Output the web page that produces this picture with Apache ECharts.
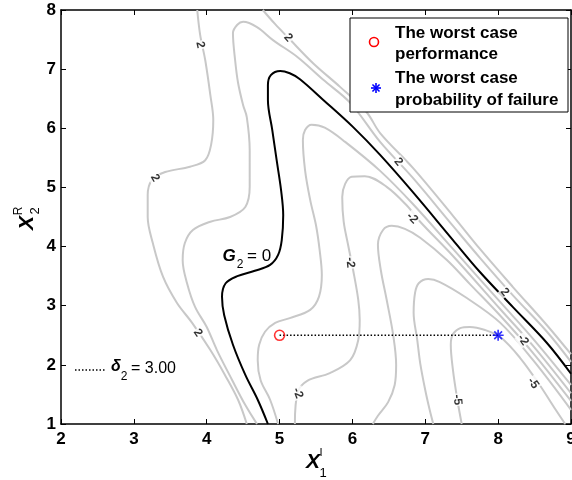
<!DOCTYPE html>
<html>
<head>
<meta charset="utf-8">
<script src="https://cdn.jsdelivr.net/npm/echarts@6/dist/echarts.min.js"></script>
<style>
html,body{margin:0;padding:0;background:#fff;}
#chart{width:572px;height:480px;}
</style>
</head>
<body>
<div id="chart"></div>
<script>
// Limit-state contour G2 = 0 (black)
const limitStateZero = [[4.84,1.00],[4.70,1.41],[4.53,1.83],[4.36,2.34],[4.24,2.84],[4.21,3.15],[4.26,3.38],[4.42,3.50],[4.66,3.59],[4.87,3.69],[4.98,3.86],[5.03,4.11],[5.05,4.53],[5.02,4.96],[4.96,5.46],[4.90,5.97],[4.84,6.48],[4.84,6.73],[4.88,6.90],[5.01,6.97],[5.14,6.93],[5.28,6.83],[5.60,6.48],[6.01,6.02],[6.38,5.55],[6.83,4.92],[7.38,4.11],[7.75,3.57],[8.20,2.98],[8.67,2.37],[9.00,1.85]];

// Grey iso-lines of G2
const isoLeftOuter = [[3.87,8.00],[3.91,7.58],[3.98,7.15],[4.05,6.56],[4.09,6.14],[4.06,5.72],[3.98,5.46],[3.77,5.35],[3.43,5.26],[3.25,5.13],[3.19,4.87],[3.19,4.50],[3.26,4.06],[3.40,3.49],[3.59,3.05],[3.80,2.71],[4.05,2.25],[4.25,1.83],[4.43,1.41],[4.55,1.00]];
const isoLeftInner = [[9.00,2.05],[8.67,2.56],[8.20,3.18],[7.75,3.81],[7.38,4.35],[6.83,5.16],[6.38,5.77],[5.97,6.43],[5.60,6.82],[5.24,7.21],[4.91,7.49],[4.69,7.71],[4.50,7.80],[4.42,7.75],[4.36,7.61],[4.39,7.15],[4.43,6.77],[4.50,6.39],[4.55,6.19],[4.59,5.63],[4.59,5.01],[4.53,4.67],[4.32,4.50],[4.05,4.42],[3.81,4.28],[3.70,4.06],[3.67,3.77],[3.73,3.38],[3.84,2.98],[4.00,2.64],[4.14,2.25],[4.35,1.74],[4.53,1.32],[4.69,1.00]];
const isoUpperRight = [[4.77,8.00],[4.94,7.76],[5.12,7.53],[5.46,7.10],[5.83,6.70],[6.19,6.28],[6.38,5.92],[6.83,5.33],[7.38,4.52],[7.75,3.96],[8.20,3.32],[8.67,2.67],[9.00,2.18]];
const isoArchA = [[9.00,1.66],[8.48,2.44],[8.03,3.06],[7.38,3.96],[6.83,4.72],[6.38,5.28],[5.90,5.77],[5.62,6.01],[5.44,6.06],[5.35,5.97],[5.32,5.80],[5.35,5.29],[5.42,4.79],[5.50,4.36],[5.55,3.94],[5.58,3.52],[5.54,3.15],[5.42,2.93],[5.14,2.79],[4.94,2.71],[4.80,2.56],[4.72,2.34],[4.70,2.08],[4.74,1.74],[4.87,1.41],[4.98,1.00]];
const isoArchB = [[9.00,1.52],[8.48,2.32],[8.03,2.94],[7.38,3.84],[6.93,4.42],[6.75,4.69],[6.47,5.01],[6.17,5.19],[5.99,5.18],[5.90,5.06],[5.86,4.84],[5.88,4.42],[5.94,4.03],[6.01,3.60],[6.08,3.10],[6.10,2.76],[6.08,2.42],[5.97,2.08],[5.69,1.86],[5.38,1.73],[5.25,1.54],[5.21,1.00]];
const isoArchC = [[9.00,1.39],[8.48,2.20],[8.03,2.83],[7.61,3.37],[7.30,3.77],[6.93,4.15],[6.72,4.30],[6.54,4.35],[6.42,4.28],[6.35,4.03],[6.39,3.60],[6.47,3.10],[6.56,2.50],[6.60,2.00],[6.58,1.66],[6.49,1.37],[6.35,1.14],[6.28,1.00]];
const isoArchD = [[9.00,1.24],[8.48,2.08],[8.03,2.71],[7.57,3.13],[7.20,3.40],[7.04,3.45],[6.91,3.38],[6.86,3.22],[6.84,2.88],[6.89,2.42],[6.93,2.03],[7.00,1.57],[7.06,1.24],[7.11,1.00]];
const isoArchE = [[8.92,1.00],[8.79,1.24],[8.57,1.66],[8.30,2.12],[8.03,2.47],[7.82,2.59],[7.61,2.64],[7.48,2.62],[7.38,2.52],[7.35,2.34],[7.38,1.91],[7.44,1.41],[7.50,1.00]];

// Contour level labels: [x, y, text]
const levelLabels = [[3.91,7.41,'2'],[3.29,5.16,'2'],[3.88,2.54,'2'],[5.12,7.53,'2'],[6.63,5.43,'2'],[8.09,3.23,'2'],[6.82,4.48,'-2'],[5.97,3.73,'-2'],[5.25,1.52,'-2'],[8.34,2.42,'-2'],[7.44,1.41,'-5'],[8.48,1.69,'-5']];
const levelLabelAngles = [-78,-60,-55,-48,-50,-50,-45,-85,-70,-55,-85,-55];

// Worst-case points
const worstPerformance = [5, 2.5];
const worstFailure = [8, 2.5];
const deltaText = '3.00';

const xTickValues = [2,3,4,5,6,7,8,9];
const yTickValues = [1,2,3,4,5,6,7,8];

const GREY = '#c8c8c8';
const FONT = '"Liberation Sans", Arial, Helvetica, sans-serif';
const starPath = 'M-1,-0.15L1,-0.15L1,0.15L-1,0.15Z M-0.15,-1L0.15,-1L0.15,1L-0.15,1Z M-0.601,-0.813L0.813,0.601L0.601,0.813L-0.813,-0.601Z M-0.813,0.601L0.601,-0.813L0.813,-0.601L-0.601,0.813Z';

function isoLine(data, color) {
  return {
    type: 'line', data: data, xAxisIndex: 0, yAxisIndex: 0,
    symbol: 'none', smooth: 0.35, silent: true, z: 2,
    lineStyle: { color: color, width: 2 }
  };
}

// small asterisk drawn from four strokes (legend key)
function asterisk(cx, cy, r, color) {
  const parts = [];
  for (let k = 0; k < 4; k++) {
    const a = k * Math.PI / 4;
    const dx = r * Math.cos(a), dy = r * Math.sin(a);
    parts.push({ type: 'line', z: 101, shape: { x1: cx - dx, y1: cy - dy, x2: cx + dx, y2: cy + dy },
      style: { stroke: color, lineWidth: 1.6 } });
  }
  return parts;
}

function txt(x, y, text, font, align, extra) {
  return Object.assign({ type: 'text', z: 101, x: x, y: y,
    style: { text: text, font: font, fill: '#000', textAlign: align, textVerticalAlign: 'middle', align: align, verticalAlign: 'middle' } }, extra || {});
}

const chart = echarts.init(document.getElementById('chart'), null, { renderer: 'canvas' });

const baseAxis = {
  type: 'value', interval: 1,
  axisLine: { show: true, onZero: false, lineStyle: { color: '#000', width: 1.5 } },
  axisTick: { show: true, inside: true, length: 5, lineStyle: { color: '#000', width: 1 } },
  splitLine: { show: false }
};

const option = {
  animation: false,
  backgroundColor: '#fff',
  grid: { left: 61, right: 1, top: 10, bottom: 56, containLabel: false, outerBoundsMode: 'none' },
  xAxis: [
    Object.assign({}, baseAxis, { min: xTickValues[0], max: xTickValues[xTickValues.length-1], position: 'bottom',
      axisLabel: { show: true, color: '#000', fontFamily: FONT, fontWeight: 'bold', fontSize: 17, margin: 7, showMinLabel: true, showMaxLabel: true } }),
    Object.assign({}, baseAxis, { min: xTickValues[0], max: xTickValues[xTickValues.length-1], position: 'top', axisLabel: { show: false } })
  ],
  yAxis: [
    Object.assign({}, baseAxis, { min: yTickValues[0], max: yTickValues[yTickValues.length-1], position: 'left',
      axisLabel: { show: true, color: '#000', fontFamily: FONT, fontWeight: 'bold', fontSize: 17, margin: 5, showMinLabel: true, showMaxLabel: true } }),
    Object.assign({}, baseAxis, { min: yTickValues[0], max: yTickValues[yTickValues.length-1], position: 'right', axisLabel: { show: false } })
  ],
  series: [
    isoLine(isoLeftOuter, GREY),
    isoLine(isoLeftInner, GREY),
    isoLine(isoUpperRight, GREY),
    isoLine(isoArchA, GREY),
    isoLine(isoArchB, GREY),
    isoLine(isoArchC, GREY),
    isoLine(isoArchD, GREY),
    isoLine(isoArchE, GREY),
    isoLine(limitStateZero, '#000'),
    {
      type: 'scatter', silent: true, z: 5, symbolSize: 0,
      data: levelLabels.map(function (l, i) {
        return { value: [l[0], l[1]], label: { formatter: l[2], rotate: levelLabelAngles[i] } };
      }),
      label: { show: true, position: 'inside', color: '#000', fontFamily: FONT, fontWeight: 'bold', fontSize: 12,
        backgroundColor: '#fff', padding: [0, 1] }
    },
    {
      type: 'line', silent: true, z: 3, symbol: 'none',
      data: [worstPerformance, worstFailure],
      lineStyle: { color: '#000', width: 1.5, type: [1.5, 2] }
    },
    {
      type: 'scatter', silent: true, z: 6, symbol: 'circle', symbolSize: 10,
      data: [worstPerformance],
      itemStyle: { color: 'rgba(0,0,0,0)', borderColor: '#ff0000', borderWidth: 1.6 }
    },
    {
      type: 'scatter', silent: true, z: 6, symbol: 'path://' + starPath, symbolSize: 11,
      data: [worstFailure],
      itemStyle: { color: '#0000ff' }
    }
  ],
  graphic: [
    // legend box
    { type: 'rect', z: 100, shape: { x: 350, y: 18, width: 218, height: 94 },
      style: { fill: '#fff', stroke: '#000', lineWidth: 1 } },
    { type: 'circle', z: 101, shape: { cx: 374, cy: 42, r: 4.5 },
      style: { fill: 'none', stroke: '#ff0000', lineWidth: 1.6 } }
  ].concat(asterisk(376, 88, 5, '#0000ff')).concat([
    txt(395, 33, 'The worst case', 'bold 17px ' + FONT, 'left'),
    txt(395, 54, 'performance', 'bold 17px ' + FONT, 'left'),
    txt(395, 78, 'The worst case', 'bold 17px ' + FONT, 'left'),
    txt(395, 100, 'probability of failure', 'bold 17px ' + FONT, 'left'),

    // G2 = 0 annotation
    txt(229, 256, 'G', 'italic bold 17px ' + FONT, 'center'),
    txt(240, 265, '2', '12px ' + FONT, 'center'),
    txt(247, 256, '= 0', '17px ' + FONT, 'left'),

    // delta annotation
    { type: 'line', z: 50, shape: { x1: 75, y1: 370, x2: 105, y2: 370 }, style: { stroke: '#000', lineWidth: 1.5, lineDash: [1.5, 2] } },
    txt(116, 367, 'δ', 'italic bold 16px ' + FONT, 'center'),
    txt(124, 377, '2', '12px ' + FONT, 'center'),
    txt(131, 369, '= ' + deltaText, '16px ' + FONT, 'left'),

    // x-axis name
    txt(313, 462, 'X', 'italic bold 21px ' + FONT, 'center'),
    txt(321, 453, 'I', '11px ' + FONT, 'center'),
    txt(323, 473, '1', '13px ' + FONT, 'center'),

    // y-axis name (rotated)
    txt(27, 223, 'X', 'italic bold 21px ' + FONT, 'center', { rotation: Math.PI / 2 }),
    txt(19, 211, 'R', '12px ' + FONT, 'center', { rotation: Math.PI / 2 }),
    txt(35, 211, '2', '13px ' + FONT, 'center', { rotation: Math.PI / 2 })
  ])
};

chart.setOption(option);
</script>
</body>
</html>
